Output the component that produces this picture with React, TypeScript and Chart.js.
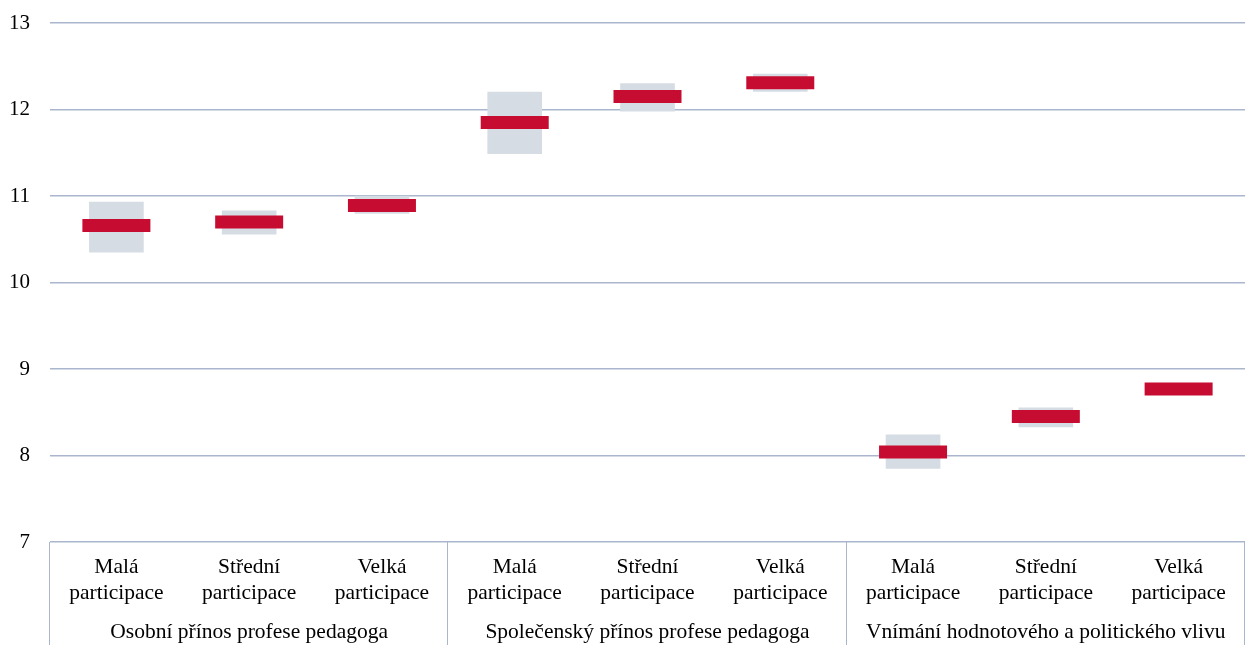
import React, { useEffect, useRef } from "react";
import { Chart, registerables } from "chart.js";

Chart.register(...registerables);

const categories: string[][] = [
  ["Malá", "participace"],
  ["Střední", "participace"],
  ["Velká", "participace"],
  ["Malá", "participace"],
  ["Střední", "participace"],
  ["Velká", "participace"],
  ["Malá", "participace"],
  ["Střední", "participace"],
  ["Velká", "participace"],
];

const groups: string[] = [
  "Osobní přínos profese pedagoga",
  "Společenský přínos profese pedagoga",
  "Vnímání hodnotového a politického vlivu",
];

const means: number[] = [10.66, 10.7, 10.89, 11.85, 12.15, 12.31, 8.04, 8.45, 8.77];
const lows: number[] = [10.35, 10.56, 10.8, 11.49, 11.98, 12.21, 7.85, 8.33, 8.74];
const highs: number[] = [10.93, 10.83, 11.0, 12.2, 12.3, 12.41, 8.24, 8.55, 8.8];

const yTicks: number[] = [7, 8, 9, 10, 11, 12, 13];

const FONT = "'Liberation Serif', 'Times New Roman', serif";
const GRID = "#a9b6cd";
const RED = "#c60c30";
const GRAY = "#d5dce4";

const groupPlugin = {
  id: "groupPlugin",
  afterDraw(chart: any) {
    const ctx = chart.ctx;
    const x = chart.scales.x;
    const area = chart.chartArea;
    const per = 3;
    const bounds: number[] = [area.left];
    for (let g = 1; g < groups.length; g++) {
      const a = x.getPixelForTick(g * per - 1);
      const b = x.getPixelForTick(g * per);
      bounds.push((a + b) / 2);
    }
    bounds.push(area.right);
    ctx.save();
    ctx.strokeStyle = GRID;
    ctx.lineWidth = 1;
    for (const bx of bounds) {
      const px = Math.round(bx) - 0.5;
      ctx.beginPath();
      ctx.moveTo(px, area.bottom);
      ctx.lineTo(px, 645);
      ctx.stroke();
    }
    ctx.fillStyle = "#000";
    ctx.font = `21.5px ${FONT}`;
    ctx.textAlign = "center";
    ctx.textBaseline = "middle";
    for (let g = 0; g < groups.length; g++) {
      ctx.fillText(groups[g], (bounds[g] + bounds[g + 1]) / 2, 632);
    }
    ctx.restore();
  },
};

export default function App() {
  const ref = useRef<HTMLCanvasElement | null>(null);
  useEffect(() => {
    if (!ref.current) return;
    const chart = new Chart(ref.current, {
      type: "bar",
      data: {
        labels: categories as any,
        datasets: [
          {
            type: "line",
            data: means,
            showLine: false,
            pointStyle: "line",
            pointRadius: 34,
            pointHoverRadius: 34,
            pointBorderWidth: 13,
            pointHoverBorderWidth: 13,
            borderColor: RED,
            backgroundColor: RED,
            order: 0,
          } as any,
          {
            type: "bar",
            data: lows.map((l, i) => [l, highs[i]]),
            backgroundColor: GRAY,
            barThickness: 54,
            grouped: false,
            order: 1,
          } as any,
        ],
      },
      options: {
        animation: false,
        responsive: true,
        maintainAspectRatio: false,
        layout: { autoPadding: false, padding: { top: 23, right: 2, left: 0, bottom: 0 } },
        plugins: { legend: { display: false }, tooltip: { enabled: false } },
        scales: {
          x: {
            offset: true,
            grid: { display: false, drawTicks: false },
            border: { display: false },
            ticks: {
              color: "#000",
              font: { family: FONT, size: 21.5, lineHeight: 1.18 },
              padding: 13,
              maxRotation: 0,
              autoSkip: false,
            },
            afterFit(scale: any) {
              scale.height = 120;
              scale.paddingLeft = 0;
              scale.paddingRight = 0;
            },
          },
          y: {
            min: 7,
            max: 13,
            afterBuildTicks(scale: any) {
              scale.ticks = yTicks.map((v) => ({ value: v }));
            },
            grid: { color: GRID, lineWidth: 1.5, drawTicks: false },
            border: { display: false },
            ticks: {
              color: "#000",
              font: { family: FONT, size: 21 },
              padding: 20,
            },
            afterFit(scale: any) {
              scale.width = 50;
              scale.paddingTop = 0;
              scale.paddingBottom = 0;
            },
          },
        },
      },
      plugins: [groupPlugin],
    });
    return () => chart.destroy();
  }, []);
  return (
    <div style={{ position: "absolute", left: 0, top: 0, width: 1247, height: 662, background: "#fff" }}>
      <canvas ref={ref} />
    </div>
  );
}
